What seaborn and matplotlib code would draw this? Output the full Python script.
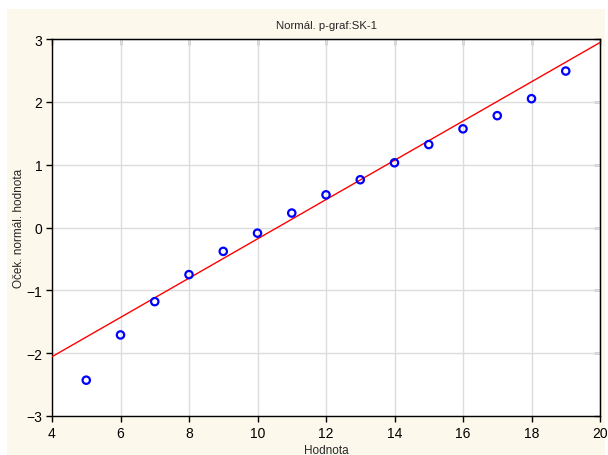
import numpy as np
import pandas as pd
import seaborn as sns
import matplotlib.pyplot as plt
from matplotlib.patches import Rectangle

hodnota = [5, 6, 7, 8, 9, 10, 11, 12, 13, 14, 15, 16, 17, 18, 19]
ocek_norm = [-2.43, -1.71, -1.18, -0.75, -0.38, -0.09, 0.23, 0.52,
             0.76, 1.03, 1.32, 1.57, 1.78, 2.05, 2.49]

# reference line of the normal plot
fit_intercept = -3.306
fit_slope = 0.3125
line_x = [4, 20]

x_ticks = [4, 6, 8, 10, 12, 14, 16, 18, 20]
y_ticks = [-3, -2, -1, 0, 1, 2, 3]

sns.set_style("white")
plt.rcParams['font.family'] = ['Liberation Sans', 'DejaVu Sans']

df = pd.DataFrame({'Hodnota': hodnota, 'Ocek': ocek_norm})
line_df = pd.DataFrame({'x': line_x,
                        'y': [fit_intercept + fit_slope * v for v in line_x]})

fig = plt.figure(figsize=(6.08, 4.56), dpi=100, facecolor='white')
# cream panel behind the chart
fig.patches.append(Rectangle((7 / 608, 0), 598 / 608, 446 / 456,
                             transform=fig.transFigure, facecolor='#FDF8EC',
                             edgecolor='none', zorder=-10))
ax = fig.add_axes([52 / 608, 39 / 456, 548 / 608, 377 / 456])
ax.set_facecolor('white')

# reference line
sns.lineplot(data=line_df, x='x', y='y', color='red', linewidth=1, ax=ax, zorder=3)
# data points
sns.scatterplot(data=df, x='Hodnota', y='Ocek', ax=ax, marker='o', s=28,
                facecolor='none', edgecolor='blue', linewidth=1.6, zorder=4)

ax.set_xlim(4, 20)
ax.set_ylim(-3, 3)
ax.set_xticks(x_ticks)
ax.set_yticks(y_ticks)
ax.grid(True, color='#DCDCDC', linewidth=1)
ax.set_axisbelow(True)

for s in ax.spines.values():
    s.set_color('black')
    s.set_linewidth(1)

ax.tick_params(axis='both', which='both', direction='out', length=4, width=1,
               labelsize=10, colors='black', left=True, bottom=True)
ax.tick_params(axis='x', pad=3)
ax.tick_params(axis='y', pad=3)
# inward ticks on top and right side
ax_top = ax.secondary_xaxis('top')
ax_top.set_xticks(x_ticks)
ax_top.tick_params(direction='in', length=4, width=1, labeltop=False)
ax_right = ax.secondary_yaxis('right')
ax_right.set_yticks(y_ticks)
ax_right.tick_params(direction='in', length=4, width=1, labelright=False)

ax.set_title('Normál. p-graf:SK-1', fontsize=8.2, pad=8)
ax.set_xlabel('Hodnota', fontsize=8.5)
ax.set_ylabel('Oček. normál. hodnota', fontsize=8.5)
ax.xaxis.set_label_coords(0.5, -0.089)
ax.yaxis.set_label_coords(-0.06, 0.5)
ax.xaxis.label.set_va('center')
ax.yaxis.label.set_va('center')

fig.savefig('out.png', dpi=100)
